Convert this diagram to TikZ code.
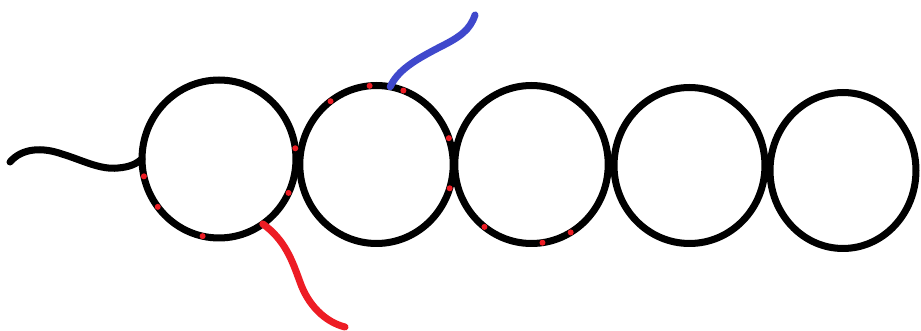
\documentclass[tikz,border=0pt]{standalone}
\usepackage{xcolor}
\usepackage{tikz}
\usetikzlibrary{shapes.geometric}
\definecolor{inkred}{HTML}{ED1C24}
\definecolor{inkblue}{HTML}{3F48CC}
\tikzset{
  ring/.style  = {ellipse, draw=black, line width=4pt, inner sep=0pt, outer sep=0pt},
  dot/.style   = {circle, fill=inkred, minimum size=0.12cm, inner sep=0pt},
  wire/.style  = {line width=4pt, line cap=round, draw=black},
  redwire/.style  = {wire, draw=inkred},
  bluewire/.style = {wire, draw=inkblue},
}
\begin{document}
\begin{tikzpicture}[x=0.02cm, y=-0.02cm]
    \useasboundingbox (0,0) rectangle (921,331);
    % Chain of rings
    \node[ring, minimum width=3.08cm, minimum height=3.16cm] (c1) at (219,159)   {};
    \node[ring, minimum width=3.07cm, minimum height=3.16cm] (c2) at (376.5,164.5) {};
    \node[ring, minimum width=3.07cm, minimum height=3.16cm] (c3) at (531.5,164.5) {};
    \node[ring, minimum width=3.02cm, minimum height=3.12cm] (c4) at (689.5,165.5) {};
    \node[ring, minimum width=2.92cm, minimum height=3.12cm] (c5) at (843,170.5)   {};
    % Free ends of the strands
    \coordinate (tailend) at (10,162);
    \coordinate (redend)  at (345,327);
    \coordinate (blueend) at (475,15);

    \draw[wire] (c1.west) .. controls (136,164) and (130,167) .. (118,168)
        .. controls (100,170) and (82,160) .. (62,154)
        .. controls (42,147) and (22,148) .. (tailend);
    \draw[redwire] (c1.304) .. controls (285,240) and (292,260) .. (300,282)
        .. controls (308,305) and (325,322) .. (redend);
    \draw[bluewire] (c2.80) .. controls (398,70) and (415,60) .. (440,47)
        .. controls (460,37) and (470,30) .. (blueend);

    % Red marks on the rings
    \node[dot] (d1)  at (c1.8)   {};
    \node[dot] (d2)  at (c1.334) {};
    \node[dot] (d3)  at (c1.193) {};
    \node[dot] (d4)  at (c1.218) {};
    \node[dot] (d5)  at (c1.258) {};
    \node[dot] (d6)  at (c2.126) {};
    \node[dot] (d7)  at (c2.95)  {};
    \node[dot] (d8)  at (c2.70)  {};
    \node[dot] (d9)  at (c2.20)  {};
    \node[dot] (d10) at (c2.342) {};
    \node[dot] (d11) at (c3.233) {};
    \node[dot] (d12) at (c3.278) {};
    \node[dot] (d13) at (c3.300) {};
  \end{tikzpicture}
\end{document}
